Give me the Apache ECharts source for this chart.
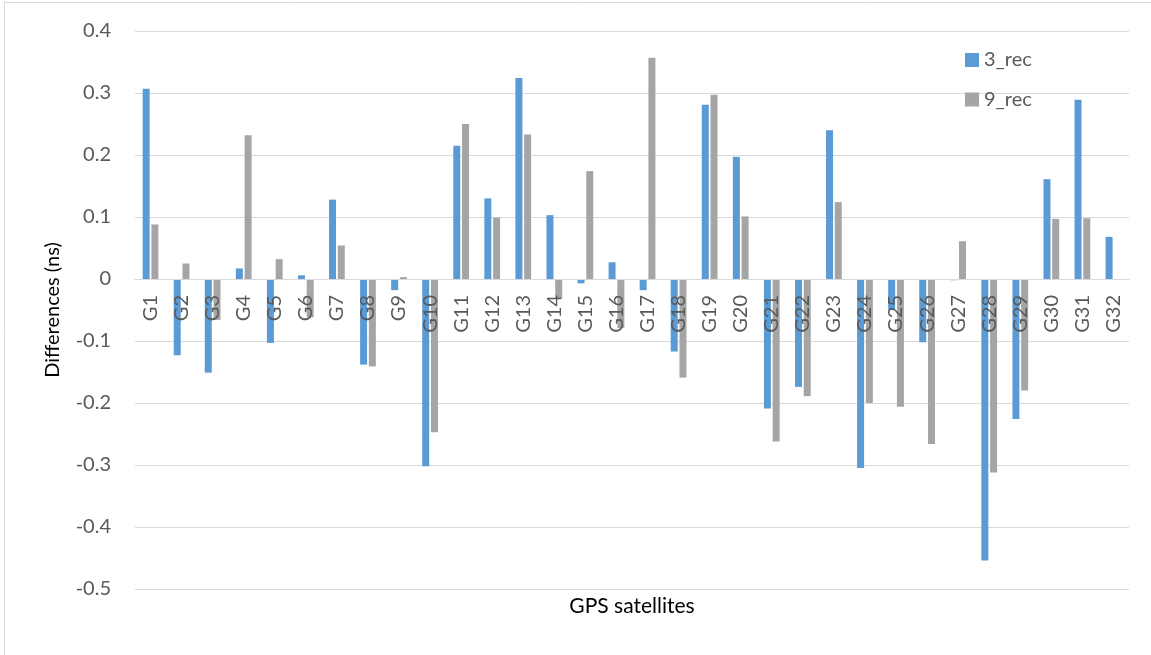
<!DOCTYPE html>
<html>
<head>
<meta charset="utf-8">
<script src="https://cdn.jsdelivr.net/npm/echarts@6/dist/echarts.min.js"></script>
<style>
html,body{margin:0;padding:0;background:#fff;}
#chart{width:1151px;height:655px;}
</style>
</head>
<body>
<div id="chart"></div>
<script>
var categories = ['G1','G2','G3','G4','G5','G6','G7','G8','G9','G10','G11','G12','G13','G14','G15','G16',
  'G17','G18','G19','G20','G21','G22','G23','G24','G25','G26','G27','G28','G29','G30','G31','G32'];
var rec3 = [0.307,-0.123,-0.151,0.017,-0.103,0.006,0.128,-0.138,-0.018,-0.302,0.215,0.130,0.324,0.103,-0.007,0.027,
  -0.018,-0.117,0.281,0.197,-0.209,-0.174,0.240,-0.305,-0.050,-0.102,-0.002,-0.454,-0.226,0.161,0.289,0.068];
var rec9 = [0.088,0.025,-0.066,0.232,0.032,-0.062,0.054,-0.141,0.003,-0.247,0.250,0.099,0.233,-0.032,0.174,-0.079,
  0.357,-0.159,0.297,0.101,-0.262,-0.189,0.124,-0.200,-0.206,-0.266,0.061,-0.312,-0.180,0.097,0.098,null];
var seriesNames = ['3_rec','9_rec'];
var yTicks = {min:-0.5, max:0.4, interval:0.1};

var H = 655, TOP = 31, BOTTOM = 66;
var plotH = H - TOP - BOTTOM;
var zeroFromBottom = plotH * (0 - yTicks.min) / (yTicks.max - yTicks.min);

var chart = echarts.init(document.getElementById('chart'));
var font = 'Lato, "Open Sans", sans-serif';
chart.setOption({
  animation:false,
  backgroundColor:'#fff',
  color:['#5B9BD5','#A5A5A5'],
  graphic:[{type:'rect', silent:true, shape:{x:4.5,y:2.5,width:1200,height:700},
    style:{fill:null, stroke:'#d9d9d9', lineWidth:1}}],
  grid:{left:135, right:22, top:TOP, bottom:BOTTOM, containLabel:false, outerBoundsMode:'none'},
  legend:{orient:'vertical', left:965, top:50, padding:0, itemWidth:14, itemHeight:14, itemGap:19.5, icon:'rect',
    textStyle:{fontFamily:font, fontSize:20, color:'#595959'}, data:seriesNames},
  xAxis:{type:'category', data:categories, z:5, position:'bottom', offset:-zeroFromBottom,
    axisLine:{onZero:false, lineStyle:{color:'#d9d9d9', width:1}},
    axisTick:{show:false},
    axisLabel:{rotate:90, interval:0, margin:16, fontFamily:font, fontSize:20, color:'#595959'},
    name:'GPS satellites', nameLocation:'middle', nameGap:317,
    nameTextStyle:{fontFamily:font, fontSize:21, color:'#000'}},
  yAxis:{type:'value', min:yTicks.min, max:yTicks.max, interval:yTicks.interval,
    axisLine:{show:false}, axisTick:{show:false},
    splitLine:{lineStyle:{color:'#d9d9d9', width:1}},
    axisLabel:{margin:24, fontFamily:font, fontSize:20, color:'#595959',
      formatter:function(v){ return String(+v.toFixed(1)); }},
    name:'Differences (ns)', nameLocation:'middle', nameGap:72,
    nameTextStyle:{fontFamily:font, fontSize:20, color:'#000'}},
  series:[
    {name:seriesNames[0], type:'bar', data:rec3, barWidth:7, barGap:'25%'},
    {name:seriesNames[1], type:'bar', data:rec9, barWidth:7, barGap:'25%'}
  ]
});
</script>
</body>
</html>
